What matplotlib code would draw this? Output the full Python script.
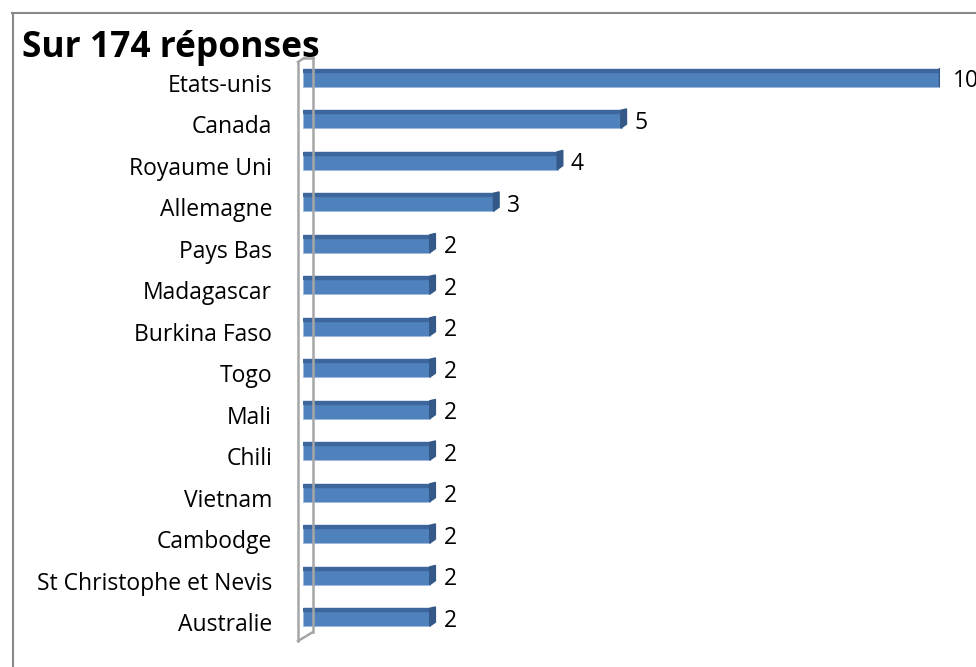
import matplotlib
matplotlib.use("Agg")
import matplotlib.pyplot as plt
from matplotlib.lines import Line2D
from matplotlib.patches import Polygon

plt.rcParams["font.family"] = ["Open Sans", "DejaVu Sans"]

pays = ["Etats-unis", "Canada", "Royaume Uni", "Allemagne", "Pays Bas", "Madagascar",
        "Burkina Faso", "Togo", "Mali", "Chili", "Vietnam", "Cambodge",
        "St Christophe et Nevis", "Australie"]
valeurs = [10, 5, 4, 3, 2, 2, 2, 2, 2, 2, 2, 2, 2, 2]
titre = "Sur 174 réponses"

W, H = 976, 667


def px(x, y):
    # pixel coords (from top-left) -> figure fraction
    return x / W, 1 - y / H


fig = plt.figure(figsize=(W / 100, H / 100), dpi=100)

# axes: value 0 at x=303, value 10 at x=940 ; rows from y=57 to 638
ax = fig.add_axes([303 / W, 1 - 638 / H, 637 / W, 581 / H])
ax.set_xlim(0, 10)
ax.set_ylim(len(pays) - 0.5, -0.5)
ax.axis("off")

front = "#4F81BD"
top = "#3D679C"
side = "#345887"
h = 0.43
ux = 63.7   # px per unit
uy = 41.5   # px per row
dx = 5 / ux
dy = 4 / uy

ypos = list(range(len(pays)))
ax.barh(ypos, valeurs, height=h, color=front, edgecolor="#9DB9DD", linewidth=0.6, zorder=3)
for y, v, nom in zip(ypos, valeurs, pays):
    y0 = y - h / 2
    y1 = y + h / 2
    ax.add_patch(Polygon([(0, y0), (v, y0), (v, y0 + 0.07), (0, y0 + 0.07)],
                         closed=True, color=top, zorder=4))
    ax.add_patch(Polygon([(v - 0.01, y0), (v + dx, y0 - dy * 0.35), (v + dx, y1 - dy), (v - 0.01, y1)],
                         closed=True, color=side, zorder=4))
    ax.text(v + 13 / ux, y + 9.5 / uy, str(v), ha="left", va="baseline", fontsize=16.5,
            color="black", clip_on=False)
    ax.text(-31 / ux, y + 14 / uy, nom, ha="right", va="baseline", fontsize=16.5,
            color="black", clip_on=False)

# 3D wall of the vertical axis
wall = "#A6A6A6"
for (xa, ya), (xb, yb) in [((298, 62), (298, 641)), ((298, 641), (313, 632)),
                           ((313, 632), (313, 58)), ((313, 58), (304, 58)),
                           ((304, 58), (298, 62))]:
    fig.add_artist(Line2D([px(xa, ya)[0], px(xb, yb)[0]], [px(xa, ya)[1], px(xb, yb)[1]],
                          color=wall, linewidth=1.8, zorder=1))

# chart border (left and top visible)
fig.add_artist(Line2D([px(12.5, 13)[0], px(12.5, 667)[0]], [px(12.5, 13)[1], px(12.5, 667)[1]],
                      color="#888888", linewidth=1.5))
fig.add_artist(Line2D([px(12, 13)[0], px(976, 13)[0]], [px(12, 13)[1], px(976, 13)[1]],
                      color="#888888", linewidth=1.5))

fig.text(px(22, 0)[0], px(0, 57)[1], titre, fontsize=25.5, fontweight="bold", ha="left",
         va="baseline")

fig.savefig("out.png", dpi=100)
